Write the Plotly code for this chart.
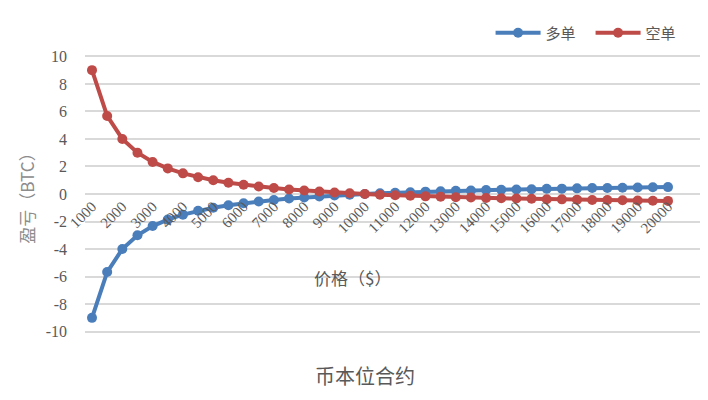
import plotly.graph_objects as go

# 价格 ($)
prices = [1000, 1500, 2000, 2500, 3000, 3500, 4000, 4500, 5000, 5500,
          6000, 6500, 7000, 7500, 8000, 8500, 9000, 9500, 10000, 10500,
          11000, 11500, 12000, 12500, 13000, 13500, 14000, 14500, 15000, 15500,
          16000, 16500, 17000, 17500, 18000, 18500, 19000, 19500, 20000]

# 多单 盈亏 (BTC)
long_pnl = [-9.0, -5.67, -4.0, -3.0, -2.33, -1.86, -1.5, -1.22, -1.0, -0.82,
            -0.67, -0.54, -0.43, -0.33, -0.25, -0.18, -0.11, -0.05, 0.0, 0.05,
            0.09, 0.13, 0.17, 0.2, 0.23, 0.26, 0.29, 0.31, 0.33, 0.35,
            0.38, 0.39, 0.41, 0.43, 0.44, 0.46, 0.47, 0.49, 0.5]

# 空单 盈亏 (BTC)
short_pnl = [9.0, 5.67, 4.0, 3.0, 2.33, 1.86, 1.5, 1.22, 1.0, 0.82,
             0.67, 0.54, 0.43, 0.33, 0.25, 0.18, 0.11, 0.05, 0.0, -0.05,
             -0.09, -0.13, -0.17, -0.2, -0.23, -0.26, -0.29, -0.31, -0.33, -0.35,
             -0.38, -0.39, -0.41, -0.43, -0.44, -0.46, -0.47, -0.49, -0.5]

x_ticks = list(range(1000, 20001, 1000))
y_ticks = list(range(-10, 11, 2))

BLUE = '#4a7ebb'
RED = '#be4b48'
GREY = '#595959'
SERIF = 'Liberation Serif, Noto Sans CJK SC'
CJK = 'Noto Sans CJK SC, Liberation Serif'

fig = go.Figure()
fig.add_trace(go.Scatter(x=prices, y=long_pnl, name='多单', mode='lines+markers',
                         line=dict(color=BLUE, width=4),
                         marker=dict(color=BLUE, size=10)))
fig.add_trace(go.Scatter(x=prices, y=short_pnl, name='空单', mode='lines+markers',
                         line=dict(color=RED, width=4),
                         marker=dict(color=RED, size=10)))

# the page body adds an 8px margin, so the figure is 700x392
fig.update_layout(
    width=700, height=392,
    margin=dict(l=77, r=0, t=47, b=67, autoexpand=False),
    plot_bgcolor='white', paper_bgcolor='white',
    title=dict(text='币本位合约', x=0.51, xanchor='center',
               y=0.059, yanchor='middle',
               font=dict(family=CJK, size=20, color=GREY)),
    legend=dict(orientation='h', x=0.651, xanchor='left', y=1.079, yanchor='middle',
                font=dict(family=CJK, size=15, color=GREY),
                itemwidth=45, entrywidth=40, entrywidthmode='pixels',
                tracegroupgap=0),
    showlegend=True,
)

# x axis title placed off-centre like the original
fig.add_annotation(text='价格（$）', xref='paper', yref='paper',
                   x=0.43, y=0.198, xanchor='center', yanchor='middle',
                   showarrow=False, font=dict(family=CJK, size=17, color=GREY))

fig.update_xaxes(
    range=[769, 21320],
    tickvals=x_ticks,
    ticktext=[str(v) for v in x_ticks],
    tickangle=-45,
    tickfont=dict(family=SERIF, size=15, color=GREY),
    showgrid=False, zeroline=False,
    showline=False, ticks='',
    anchor='free', position=0.5,
    automargin=False,
)

fig.update_yaxes(
    range=[-10.1, 10.1],
    tickvals=y_ticks,
    ticktext=[str(v) for v in y_ticks],
    tickfont=dict(family=SERIF, size=16, color=GREY),
    ticklabelstandoff=17,
    showgrid=True, gridcolor='#d9d9d9', gridwidth=1.5,
    zeroline=True, zerolinecolor='#d9d9d9', zerolinewidth=1.5,
    showline=False, ticks='', ticklen=0,
    automargin=False,
    title=dict(text='盈亏（BTC）', standoff=6,
               font=dict(family=CJK, size=17, color='#8c8c8c')),
)

fig.write_html('out.html')
